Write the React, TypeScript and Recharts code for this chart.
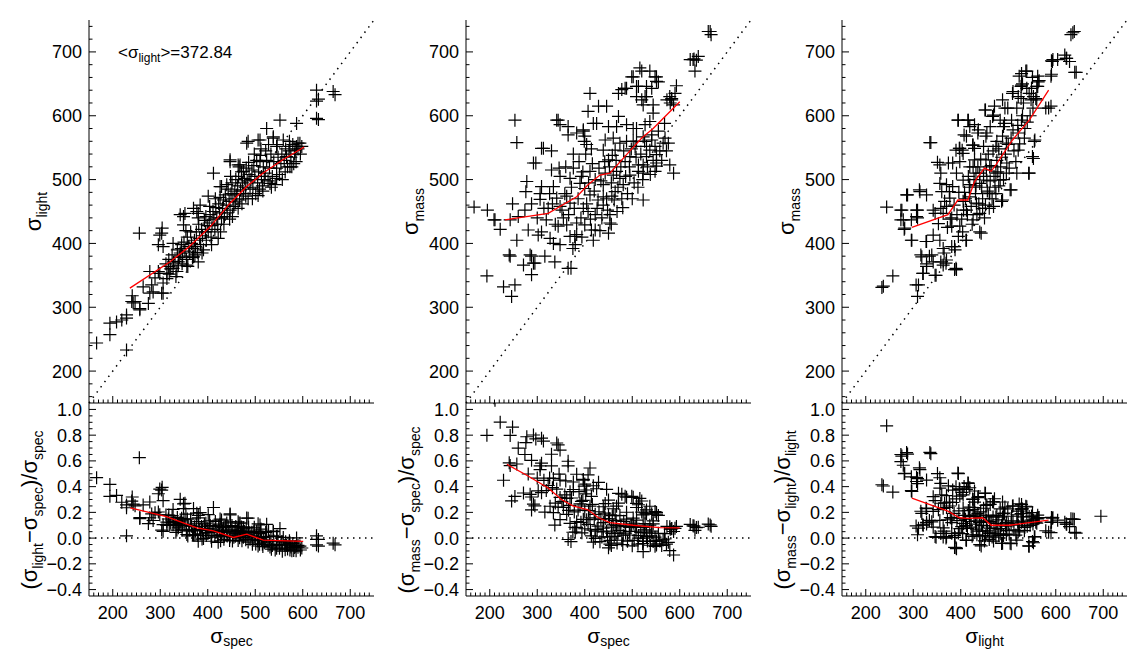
import React from 'react';
import { ScatterChart, Scatter, XAxis, YAxis, ReferenceLine } from 'recharts';

type Pair = [number, number];

const FONT = '"Liberation Sans", Arial, Helvetica, sans-serif';

// tick values / labels
const SIGMA_MAJOR = [200, 300, 400, 500, 600, 700];
const SIGMA_LABELS = ['200', '300', '400', '500', '600', '700'];
const RESID_MAJOR = [-0.4, -0.2, 0, 0.2, 0.4, 0.6, 0.8, 1.0];
const RESID_LABELS = ['\u22120.4', '\u22120.2', '0.0', '0.2', '0.4', '0.6', '0.8', '1.0'];
const MEAN_LIGHT = '372.84';

// panel 1: sigma_spec vs sigma_light
const P1: Pair[] = [
  [166, 244], [194, 257], [194, 275], [208, 277], [219, 280], [229, 288], [229, 233], [256, 416], [240, 309], [243, 307],
  [241, 318], [257, 296], [275, 306], [278, 322], [303, 322], [306, 338], [282, 335], [264, 332], [289, 346], [299, 353],
  [303, 416], [304, 424], [296, 398], [306, 395], [317, 364], [328, 371], [314, 353], [335, 356], [345, 398], [349, 442],
  [342, 385], [327, 400], [370, 455], [384, 460], [377, 450], [412, 510], [447, 528], [426, 489], [468, 523], [482, 557],
  [510, 562], [524, 580], [552, 593], [587, 588], [577, 520], [629, 640], [629, 623], [633, 626], [629, 596], [633, 594],
  [664, 638], [668, 633], [590, 557], [573, 552], [559, 562], [545, 552], [538, 567], [566, 536], [587, 552], [299, 413],
  [447, 531], [485, 560], [506, 562], [538, 565], [573, 520], [342, 445], [349, 429], [352, 447], [380, 447], [401, 474],
  [429, 489], [464, 523], [475, 513], [510, 528], [531, 494], [545, 502], [594, 557], [584, 546], [229, 283], [247, 309],
  [257, 298], [285, 324], [306, 322], [314, 345], [296, 356], [278, 356], [327, 361], [338, 371], [356, 366], [370, 379],
  [380, 371], [312, 368], [318, 375], [322, 360], [325, 382], [331, 372], [336, 390], [338, 365], [333, 348], [340, 378],
  [319, 352], [344, 392], [347, 380], [350, 402], [352, 388], [355, 375], [357, 410], [360, 395], [362, 385], [364, 418],
  [366, 400], [368, 378], [358, 364], [354, 420], [346, 368], [369, 392], [372, 405], [374, 395], [376, 418], [378, 386],
  [381, 430], [383, 408], [385, 398], [387, 422], [389, 412], [391, 390], [393, 436], [395, 418], [397, 405], [399, 428],
  [373, 382], [380, 440], [388, 385], [396, 442], [401, 418], [403, 432], [405, 445], [407, 410], [409, 428], [411, 450],
  [413, 438], [415, 422], [417, 456], [419, 440], [421, 430], [423, 462], [425, 448], [427, 418], [429, 440], [404, 458],
  [416, 470], [426, 472], [408, 398], [422, 408], [431, 455], [433, 468], [435, 442], [437, 476], [439, 460], [441, 448],
  [443, 485], [445, 466], [447, 452], [449, 478], [451, 495], [453, 470], [455, 458], [457, 482], [459, 500], [434, 430],
  [446, 438], [452, 442], [458, 465], [440, 492], [448, 505], [461, 476], [463, 490], [465, 505], [467, 468], [469, 484],
  [471, 512], [473, 495], [475, 478], [477, 502], [479, 488], [481, 518], [483, 498], [485, 470], [487, 508], [489, 485],
  [464, 455], [472, 462], [480, 474], [486, 527], [466, 520], [491, 500], [493, 515], [495, 488], [497, 522], [499, 505],
  [501, 478], [503, 530], [505, 495], [507, 512], [509, 485], [511, 538], [513, 505], [515, 490], [517, 520], [519, 500],
  [494, 470], [506, 475], [516, 482], [498, 540], [512, 548], [521, 510], [524, 530], [527, 498], [530, 518], [533, 540],
  [536, 505], [539, 528], [542, 492], [545, 518], [548, 535], [551, 508], [554, 525], [557, 500], [522, 545], [534, 488],
  [546, 555], [556, 540], [528, 555], [561, 530], [564, 548], [568, 520], [571, 545], [575, 535], [579, 555], [583, 540],
  [586, 528], [590, 548], [595, 540], [598, 552], [563, 512], [572, 560], [581, 525],
];

// panel 2: sigma_spec vs sigma_mass
const P2: Pair[] = [
  [167, 457], [194, 349], [195, 452], [211, 437], [222, 422], [229, 332], [246, 317], [253, 335], [248, 462], [253, 593],
  [257, 558], [257, 405], [243, 380], [278, 497], [276, 481], [274, 452], [281, 421], [288, 380], [292, 369], [288, 351],
  [292, 526], [297, 526], [306, 478], [306, 469], [313, 549], [316, 380], [337, 371], [341, 593], [348, 586], [365, 583],
  [365, 361], [371, 361], [375, 392], [379, 411], [411, 635], [407, 607], [397, 576], [399, 560], [429, 615], [446, 615],
  [450, 583], [418, 588], [471, 599], [467, 583], [471, 635], [478, 641], [488, 643], [502, 661], [520, 670], [537, 670],
  [548, 661], [555, 653], [509, 646], [530, 646], [520, 625], [527, 630], [523, 468], [488, 586], [502, 580], [474, 557],
  [509, 560], [523, 567], [541, 562], [537, 546], [530, 536], [551, 526], [548, 513], [523, 510], [569, 565], [576, 557],
  [587, 510], [573, 625], [583, 625], [593, 647], [579, 630], [587, 617], [555, 576], [544, 604], [628, 688], [635, 687],
  [632, 670], [639, 693], [664, 732], [666, 727], [209, 437], [243, 437], [260, 442], [241, 382], [271, 366], [285, 382],
  [295, 369], [309, 489], [334, 400], [327, 408], [309, 418], [302, 413], [319, 437], [323, 455], [334, 489], [341, 471],
  [348, 458], [344, 427], [348, 398], [369, 411], [362, 429], [355, 440], [362, 474], [369, 463], [383, 432], [383, 414],
  [400, 429], [397, 455], [390, 494], [400, 486], [411, 476], [407, 450], [422, 445], [414, 421], [422, 421], [393, 505],
  [422, 500], [439, 492], [439, 473], [439, 460], [453, 445], [453, 432], [450, 416], [443, 510], [460, 507], [467, 513],
  [474, 502], [481, 492], [457, 474], [464, 481], [428, 468], [369, 502], [348, 505], [330, 515], [346, 518], [376, 518],
  [495, 507], [513, 513], [411, 513], [309, 549], [330, 545], [344, 593], [365, 570], [383, 573], [397, 578], [400, 568],
  [404, 555], [425, 588], [443, 562], [439, 546], [450, 531], [460, 565], [464, 546], [485, 643], [488, 560], [485, 528],
  [495, 536], [502, 560], [509, 580], [506, 552], [499, 661], [513, 646], [516, 675], [527, 586], [530, 552], [523, 523],
  [509, 630], [523, 617], [530, 630], [541, 643], [544, 617], [551, 661], [551, 654], [541, 570], [537, 591], [548, 552],
  [551, 539], [565, 557], [583, 627], [590, 635], [580, 620], [622, 688], [630, 689], [660, 732], [579, 523], [551, 521],
  [513, 523], [352, 452], [358, 478], [366, 445], [372, 488], [378, 455], [386, 470], [392, 440], [396, 512], [404, 462],
  [408, 495], [412, 438], [416, 525], [420, 482], [426, 455], [430, 518], [434, 498], [436, 440], [442, 528], [446, 470],
  [448, 452], [452, 520], [456, 495], [458, 538], [462, 468], [466, 530], [470, 488], [476, 520], [478, 470], [482, 545],
  [486, 505], [490, 478], [494, 520], [498, 548], [504, 495], [508, 535], [512, 488], [518, 540], [522, 500], [526, 560],
  [532, 520], [538, 508], [544, 530], [558, 545], [562, 530], [568, 588], [572, 545], [338, 430], [332, 462], [326, 478],
  [314, 455], [300, 440], [288, 462], [380, 398], [394, 410], [418, 405], [432, 420], [456, 430], [468, 450], [480, 456],
  [500, 470], [360, 520], [376, 540], [388, 528], [402, 540], [414, 548],
];

// panel 3: sigma_light vs sigma_mass
const P3: Pair[] = [
  [234, 331], [257, 349], [244, 457], [274, 452], [274, 437], [281, 422], [288, 476], [297, 405], [309, 452], [309, 440],
  [313, 484], [327, 403], [316, 382], [306, 335], [309, 317], [320, 353], [334, 380], [328, 368], [337, 558], [351, 527],
  [348, 350], [358, 371], [365, 385], [369, 369], [390, 361], [387, 395], [394, 593], [415, 593], [429, 586], [407, 570],
  [397, 549], [403, 546], [425, 554], [452, 609], [467, 599], [436, 573], [453, 568], [471, 615], [488, 568], [492, 588],
  [488, 625], [509, 635], [523, 662], [537, 670], [527, 646], [499, 612], [527, 627], [530, 650], [544, 635], [551, 660],
  [562, 646], [565, 655], [558, 627], [548, 625], [562, 662], [590, 662], [593, 685], [604, 688], [622, 690], [629, 685],
  [632, 727], [639, 732], [643, 668], [579, 612], [590, 615], [555, 560], [551, 536], [544, 510], [506, 484], [488, 468],
  [446, 455], [443, 416], [411, 405], [387, 359], [358, 455], [363, 447], [376, 481], [383, 489], [358, 510], [383, 526],
  [390, 546], [429, 531], [432, 510], [453, 531], [474, 552], [460, 479], [474, 510], [429, 549], [276, 452], [286, 476],
  [314, 481], [328, 476], [307, 452], [307, 442], [296, 437], [279, 437], [282, 424], [296, 405], [328, 403], [342, 452],
  [346, 447], [353, 431], [342, 413], [356, 405], [363, 392], [381, 395], [388, 390], [356, 494], [360, 481], [370, 492],
  [366, 466], [377, 471], [370, 458], [381, 440], [381, 427], [398, 427], [412, 405], [395, 411], [318, 379], [339, 382],
  [342, 371], [328, 364], [346, 350], [321, 353], [363, 366], [370, 374], [391, 359], [237, 333], [311, 335], [398, 528],
  [374, 526], [356, 523], [391, 510], [405, 499], [419, 492], [419, 473], [405, 466], [412, 452], [433, 463], [440, 447],
  [426, 437], [440, 418], [419, 520], [440, 510], [461, 520], [440, 494], [461, 478], [469, 458], [486, 466], [504, 484],
  [543, 510], [518, 510], [496, 510], [483, 499], [455, 499], [335, 558], [395, 593], [416, 593], [419, 583], [437, 578],
  [412, 568], [398, 549], [405, 541], [426, 554], [451, 609], [469, 601], [462, 583], [483, 593], [490, 583], [493, 612],
  [510, 638], [521, 630], [532, 620], [518, 612], [528, 666], [539, 670], [528, 648], [539, 643], [549, 643], [560, 646],
  [563, 653], [553, 630], [560, 625], [507, 593], [510, 578], [521, 573], [535, 580], [528, 593], [496, 557], [521, 546],
  [556, 562], [553, 533], [585, 612], [591, 686], [594, 688], [623, 690], [619, 695], [591, 665], [640, 668], [636, 730],
  [476, 560], [448, 552], [455, 573], [402, 438], [406, 452], [410, 470], [414, 445], [418, 488], [422, 458], [424, 430],
  [428, 500], [431, 478], [434, 445], [436, 520], [438, 462], [442, 532], [444, 488], [446, 470], [448, 505], [450, 440],
  [454, 515], [456, 482], [458, 540], [462, 498], [464, 522], [466, 470], [468, 545], [470, 505], [472, 488], [476, 530],
  [478, 512], [480, 548], [484, 520], [486, 535], [490, 500], [494, 540], [497, 526], [500, 555], [502, 518], [506, 565],
  [512, 545], [516, 528], [520, 585], [524, 556], [530, 600], [534, 565], [540, 590], [546, 600], [552, 612], [408, 480],
  [416, 505], [426, 520], [432, 490], [392, 445], [386, 460], [378, 438], [372, 425], [396, 480], [404, 418], [452, 460],
  [460, 455], [474, 478], [480, 490], [695, 813],
];

// binned medians (red lines)
const RED1_TOP: Pair[] = [[236, 330], [320, 371], [358, 393], [405, 426], [447, 463], [482, 489], [516, 510], [558, 531], [603, 551]];
const RED1_BOT: Pair[] = [[237, 0.235], [313, 0.166], [377, 0.08], [412, 0.056], [454, 0.005], [482, 0.03], [517, -0.015], [601, -0.025]];
const RED2_TOP: Pair[] = [[232, 437], [323, 447], [383, 473], [407, 492], [432, 507], [453, 510], [488, 539], [520, 565], [544, 580], [600, 622]];
const RED2_BOT: Pair[] = [[236, 0.574], [277, 0.49], [323, 0.39], [351, 0.3], [375, 0.25], [407, 0.22], [428, 0.16], [453, 0.12], [502, 0.1], [558, 0.082], [600, 0.08]];
const RED3_TOP: Pair[] = [[297, 425], [373, 445], [394, 468], [415, 468], [429, 497], [450, 518], [464, 513], [474, 523], [509, 562], [545, 594], [585, 640]];
const RED3_BOT: Pair[] = [[297, 0.31], [373, 0.21], [397, 0.158], [415, 0.153], [446, 0.158], [464, 0.1], [503, 0.1], [585, 0.14]];

const steps = (a: number, b: number, step: number) => {
  const out: number[] = [];
  for (let i = 0; ; i++) {
    const v = +(a + i * step).toFixed(4);
    if (v > b + 1e-9) break;
    out.push(v);
  }
  return out;
};
const X_TICKS = steps(160, 740, 10);
const Y_TOP_TICKS = steps(160, 740, 20);
const Y_BOT_TICKS = steps(-0.4, 1.0, 0.05);

const toPts = (arr: Pair[]) => arr.map(([x, y]) => ({ x, y }));
const toResid = (arr: Pair[]) => arr.map(([x, y]) => ({ x, y: (y - x) / x }));

const COL_LEFT = [89, 466, 842];
const PW = 285;
const TOP_Y = 20;
const TOP_H = 383;
const BOT_Y = 403;
const BOT_H = 193;

type Side = 'bottom' | 'top' | 'left' | 'right';

const makeTick = (side: Side, majors: number[], labels?: string[]) => (props: any) => {
  const { x, y, payload } = props;
  const v = Number(payload.value);
  const i = majors.findIndex(m => Math.abs(m - v) < 1e-6);
  const len = i >= 0 ? 7 : 3.5;
  let x2 = x;
  let y2 = y;
  if (side === 'bottom') y2 = y - len;
  else if (side === 'top') y2 = y + len;
  else if (side === 'left') x2 = x + len;
  else x2 = x - len;
  return (
    <g>
      <line x1={x} y1={y} x2={x2} y2={y2} stroke="#000" strokeWidth={1} />
      {labels && i >= 0 && side === 'bottom' && (
        <text x={x} y={y + 23} textAnchor="middle" fontSize={18} fontFamily={FONT} fill="#000">{labels[i]}</text>
      )}
      {labels && i >= 0 && side === 'left' && (
        <text x={x - 7} y={y + 6.5} textAnchor="end" fontSize={18} fontFamily={FONT} fill="#000">{labels[i]}</text>
      )}
    </g>
  );
};

const renderCross = (p: any) => {
  const { cx, cy } = p;
  if (cx == null || cy == null) return <g />;
  const s = 6.5;
  return <path d={`M${cx - s},${cy}H${cx + s}M${cx},${cy - s}V${cy + s}`} stroke="#000" strokeWidth={1.2} fill="none" />;
};
const renderNone = () => <g />;

interface PanelProps {
  left: number;
  top: number;
  height: number;
  data: { x: number; y: number }[];
  red: { x: number; y: number }[];
  bottomPanel: boolean;
}

function Panel({ left, top, height, data, red, bottomPanel }: PanelProps) {
  const yTicks = bottomPanel ? Y_BOT_TICKS : Y_TOP_TICKS;
  const yMajors = bottomPanel ? RESID_MAJOR : SIGMA_MAJOR;
  const yLabels = bottomPanel ? RESID_LABELS : SIGMA_LABELS;
  const yDomain = bottomPanel ? [-0.45, 1.05] : [150, 750];
  const axisLine = { stroke: '#000', strokeWidth: 1 };
  return (
    <div style={{ position: 'absolute', left: left - 70, top: top - 10 }}>
      <ScatterChart width={PW + 80} height={height + 50} margin={{ top: 10, right: 10, bottom: 0, left: 0 }}>
        <XAxis xAxisId="b" orientation="bottom" type="number" dataKey="x" domain={[150, 750]} allowDataOverflow
          ticks={X_TICKS} interval={0} tickSize={0} tickMargin={0} tickLine={false} axisLine={axisLine} height={40}
          tick={makeTick('bottom', SIGMA_MAJOR, bottomPanel ? SIGMA_LABELS : undefined)} />
        <XAxis xAxisId="t" orientation="top" type="number" dataKey="x" domain={[150, 750]} allowDataOverflow
          ticks={X_TICKS} interval={0} tickSize={0} tickMargin={0} tickLine={false} axisLine={axisLine} height={0}
          tick={makeTick('top', SIGMA_MAJOR)} />
        <YAxis yAxisId="l" orientation="left" type="number" dataKey="y" domain={yDomain} allowDataOverflow
          ticks={yTicks} interval={0} tickSize={0} tickMargin={0} tickLine={false} axisLine={axisLine} width={70}
          tick={makeTick('left', yMajors, yLabels)} />
        <YAxis yAxisId="r" orientation="right" type="number" dataKey="y" domain={yDomain} allowDataOverflow
          ticks={yTicks} interval={0} tickSize={0} tickMargin={0} tickLine={false} axisLine={axisLine} width={0}
          tick={makeTick('right', yMajors)} />
        {!bottomPanel && (
          <ReferenceLine xAxisId="b" yAxisId="l" segment={[{ x: 150, y: 150 }, { x: 750, y: 750 }]}
            stroke="#000" strokeWidth={1.5} strokeDasharray="1.5 5" />
        )}
        {bottomPanel && (
          <ReferenceLine xAxisId="b" yAxisId="l" y={0} stroke="#000" strokeWidth={1.5} strokeDasharray="1.5 4.5" />
        )}
        <Scatter xAxisId="b" yAxisId="l" data={data} shape={renderCross} isAnimationActive={false} />
        <Scatter xAxisId="b" yAxisId="l" data={red} shape={renderNone} line={{ stroke: '#ff0000', strokeWidth: 1.3 }}
          lineType="joint" isAnimationActive={false} />
      </ScatterChart>
    </div>
  );
}

const MAIN = 22;
const SUB = 14;

function Titles() {
  const xSubs = ['spec', 'spec', 'light'];
  const ySubs = ['light', 'mass', 'mass'];
  const resid = [['light', 'spec'], ['mass', 'spec'], ['mass', 'light']];
  return (
    <svg width={1136} height={650} style={{ position: 'absolute', left: 0, top: 0, pointerEvents: 'none' }}>
      <text x={118} y={58} fontFamily={FONT} fontSize={17} fill="#000">
        {'<\u03c3'}<tspan fontSize={12} dy={4}>light</tspan><tspan dy={-4}>{`>=${MEAN_LIGHT}`}</tspan>
      </text>
      {COL_LEFT.map((L, c) => (
        <g key={c} fontFamily={FONT} fill="#000">
          <text x={L + PW / 2} y={643} textAnchor="middle" fontSize={21}>
            {'\u03c3'}<tspan fontSize={SUB} dy={3}>{xSubs[c]}</tspan>
          </text>
          <text transform={`translate(${L - 48},${TOP_Y + TOP_H / 2}) rotate(-90)`} textAnchor="middle" fontSize={MAIN}>
            {'\u03c3'}<tspan fontSize={SUB} dy={6}>{ySubs[c]}</tspan>
          </text>
          <text transform={`translate(${L - 52},510) rotate(-90)`} textAnchor="middle" fontSize={MAIN}>
            {'(\u03c3'}<tspan fontSize={SUB} dy={6}>{resid[c][0]}</tspan>
            <tspan dy={-6}>{'\u2212\u03c3'}</tspan><tspan fontSize={SUB} dy={6}>{resid[c][1]}</tspan>
            <tspan dy={-6}>{')/\u03c3'}</tspan><tspan fontSize={SUB} dy={6}>{resid[c][1]}</tspan>
          </text>
        </g>
      ))}
    </svg>
  );
}

export default function App() {
  const tops = [P1, P2, P3];
  const redTop = [RED1_TOP, RED2_TOP, RED3_TOP];
  const redBot = [RED1_BOT, RED2_BOT, RED3_BOT];
  return (
    <div style={{ position: 'absolute', left: 0, top: 0, width: 1136, height: 650, background: '#fff', overflow: 'hidden' }}>
      {COL_LEFT.map((L, c) => (
        <React.Fragment key={c}>
          <Panel left={L} top={TOP_Y} height={TOP_H} data={toPts(tops[c])} red={toPts(redTop[c])} bottomPanel={false} />
          <Panel left={L} top={BOT_Y} height={BOT_H} data={toResid(tops[c])} red={toPts(redBot[c])} bottomPanel />
        </React.Fragment>
      ))}
      <Titles />
    </div>
  );
}
